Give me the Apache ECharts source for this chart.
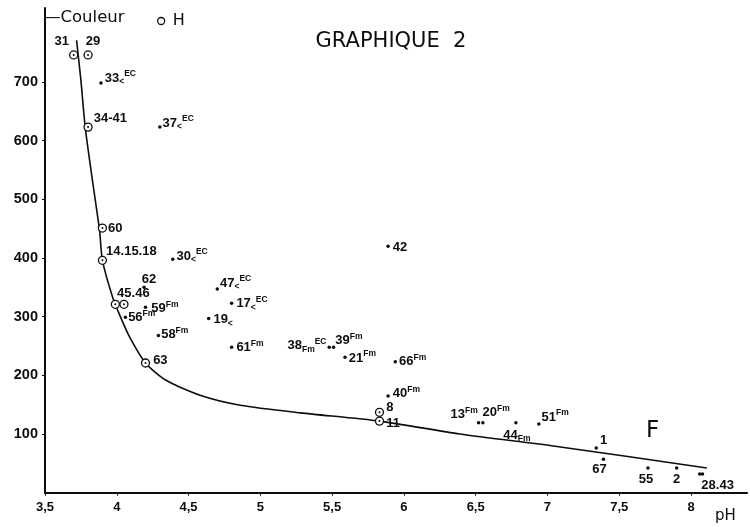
<!DOCTYPE html>
<html><head><meta charset="utf-8">
<script src="https://cdn.jsdelivr.net/npm/echarts@6/dist/echarts.min.js"></script>
<style>html,body{margin:0;padding:0;background:#fff}#c{width:750px;height:527px}</style>
</head><body><div id="c"></div>
<script>
// ---- data ----
const hNames   = ['31','29','34-41','60','14.15.18','45','46','63','8','11'];
const hPH      = [3.70, 3.80, 3.80, 3.90, 3.90, 3.99, 4.05, 4.20, 5.83, 5.83];
const hColour  = [746, 746, 623, 451, 396, 321, 321, 221, 137, 122];
const hLabels  = ['31','29','34-41','60','14.15.18','45.46','','63','8','11'];

const dNames   = ['33','37','30','62','59','56','58','47','17','19','61','38','39','21','66','40','42','13','20','44','51','1','67','55','2','28','43'];
const dPH      = [3.89, 4.30, 4.39, 4.19, 4.20, 4.06, 4.29, 4.70, 4.80, 4.64, 4.80, 5.48, 5.51, 5.59, 5.94, 5.89, 5.89, 6.52, 6.55, 6.78, 6.94, 7.34, 7.39, 7.70, 7.90, 8.06, 8.08];
const dColour  = [698, 623, 398, 350, 316, 299, 268, 347, 323, 297, 248, 248, 248, 231, 223, 165, 420, 119, 119, 119, 117, 76, 57, 42, 42, 32, 32];
const dLabels  = ['33{b|<}{s|EC}','37{b|<}{s|EC}','30{b|<}{s|EC}','62','59{s|Fm}','56{s|Fm}','58{s|Fm}','47{b|<}{s|EC}','17{b|<}{s|EC}','19{b|<}','61{s|Fm}','38{b|Fm}{s|EC}','39{s|Fm}','21{s|Fm}','66{s|Fm}','40{s|Fm}','42','13{s|Fm}','20{s|Fm}','44{b|Fm}','51{s|Fm}','1','67','55','2','28.43',''];

const curvePH     = [3.72, 3.75, 3.78, 3.83, 3.88, 3.90, 3.97, 4.02, 4.09, 4.20, 4.34, 4.58, 4.86, 5.28, 5.83, 6.39, 7.09, 8.11];
const curveColour = [771, 703, 623, 533, 447, 396, 334, 303, 265, 221, 192, 166, 149, 136, 122, 100, 78, 42];

const xTicks = [3.5, 4, 4.5, 5, 5.5, 6, 6.5, 7, 7.5, 8];
const yTicks = [100, 200, 300, 400, 500, 600, 700];

// ---- label layout (position, dx, dy) ----
const hLayout = [['top',-12,2],['top',5,2],['right',-1,-9],['right',-1,0],['right',-3,-9],['top',18,4],['top',0,0],['right',1,-3],['right',0,-5],['right',0,2]];
const dLayout = [['right',0,-5],['right',-1,-4],['right',0,-3],['top',5,4],['right',2,1],['right',-1,0],['right',-1,-1],['right',-1,-6],['right',1,0],['right',1,1],['right',1,0],['left',1,-2],['right',-2,-7],['right',0,1],['right',0,0],['right',1,-2],['right',1,1],['left',3,-8],['right',-4,-10],['bottom',1,0],['right',-1,-7],['right',0,-8],['bottom',-4,-2],['bottom',-2,-1],['bottom',0,-1],['bottom',18,-1],['bottom',0,0]];

const FONT = 'Liberation Sans';
const TFONT = 'DejaVu Sans';
const INK = '#0d0d0d';
const rich = {
  s: {fontSize: 8.5, lineHeight: 9, verticalAlign: 'top', color: INK, fontFamily: FONT, fontWeight: 'bold'},
  b: {fontSize: 8.5, lineHeight: 8, verticalAlign: 'bottom', color: INK, fontFamily: FONT, fontWeight: 'bold'}
};
function lab(text, lay, dist) {
  return {show: !!text, formatter: text, position: lay[0], offset: [lay[1], lay[2]], distance: dist,
    fontSize: 13, fontWeight: 'bold', lineHeight: 17, color: INK, fontFamily: FONT, rich: rich};
}

const hData = hNames.map((n, i) => ({name: n, value: [hPH[i], hColour[i]], label: lab(hLabels[i], hLayout[i], 2)}));
const hDots = hNames.map((n, i) => [hPH[i], hColour[i]]);
const dData = dNames.map((n, i) => ({name: n, value: [dPH[i], dColour[i]], label: lab(dLabels[i], dLayout[i], 2)}));
const curve = curvePH.map((p, i) => [p, curveColour[i]]);

const chart = echarts.init(document.getElementById('c'), null, {renderer: 'canvas'});
chart.setOption({
  animation: false,
  backgroundColor: '#fff',
  grid: {left: 45, right: 3, top: 8, bottom: 34.3, containLabel: false},
  title: {text: 'GRAPHIQUE  2', left: 386, top: 26, textAlign: 'center',
    textStyle: {fontFamily: TFONT, fontSize: 21, fontWeight: 'normal', color: INK}},
  legend: {left: 152, top: 8, itemWidth: 7, itemHeight: 7, itemGap: 4,
    data: [{name: 'H', icon: 'circle', itemStyle: {color: '#fff', borderColor: INK, borderWidth: 1.3}}],
    textStyle: {fontFamily: TFONT, fontSize: 16, color: INK, padding: [0,0,0,3]}},
  xAxis: {type: 'value', min: 3.5, max: 8.39, interval: 0.5,
    name: 'pH', nameLocation: 'end', nameGap: -32,
    nameTextStyle: {fontFamily: TFONT, fontSize: 15, color: INK, verticalAlign: 'top', align: 'left', padding: [16,0,0,0]},
    axisLine: {lineStyle: {color: INK, width: 2}},
    axisTick: {length: 3, lineStyle: {color: INK}, customValues: xTicks},
    axisLabel: {customValues: xTicks, margin: 8, fontFamily: FONT, fontSize: 13, fontWeight: 'bold', color: INK,
      formatter: v => String(v).replace('.', ',')},
    splitLine: {show: false}},
  yAxis: {type: 'value', min: 0, max: 826, interval: 100,
    name: '—Couleur', nameLocation: 'end', nameGap: -10,
    nameTextStyle: {fontFamily: TFONT, fontSize: 16.5, color: INK, align: 'left', verticalAlign: 'middle', padding: [0,0,0,-1]},
    axisLine: {lineStyle: {color: INK, width: 2}},
    axisTick: {length: 3, lineStyle: {color: INK}, customValues: yTicks},
    axisLabel: {customValues: yTicks, margin: 7, fontFamily: FONT, fontSize: 14.5, fontWeight: 'bold', color: INK},
    splitLine: {show: false}},
  graphic: [{type: 'text', left: 646, top: 420, style: {text: 'F', font: '23px "DejaVu Sans"', fill: INK}}],
  series: [
    {type: 'line', data: curve, smooth: 0.25, symbol: 'none', silent: true,
      lineStyle: {color: INK, width: 1.6}, z: 1},
    {name: 'H', type: 'scatter', data: hData, symbol: 'circle', symbolSize: 8,
      itemStyle: {color: '#fff', borderColor: INK, borderWidth: 1.3, opacity: 1}, z: 3},
    {type: 'scatter', data: hDots, symbol: 'circle', symbolSize: 2, itemStyle: {color: INK, opacity: 1}, z: 4, silent: true},
    {name: 'pts', type: 'scatter', data: dData, symbol: 'circle', symbolSize: 3.5, itemStyle: {color: INK, opacity: 1}, z: 3}
  ]
});
</script></body></html>
